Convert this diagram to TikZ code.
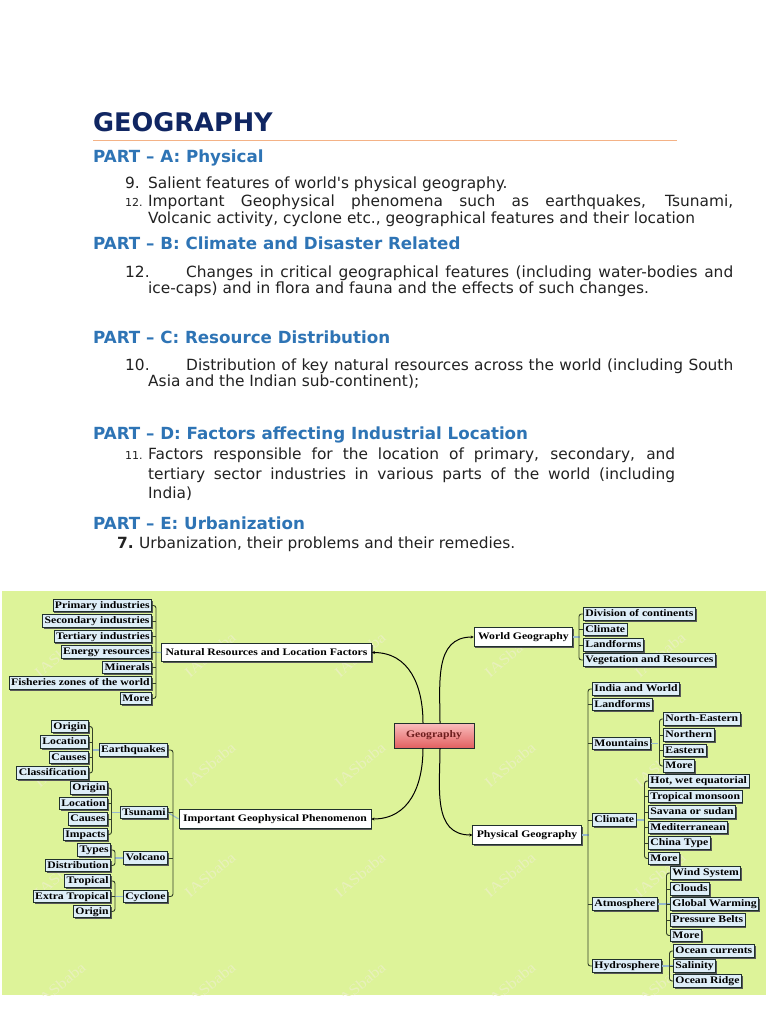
\documentclass[tikz,border=0pt]{standalone}
\usepackage{fontspec}
\setmainfont{DejaVu Sans}
\newfontfamily\mapfont{Liberation Serif}[FakeStretch=1.17]
\usetikzlibrary{arrows.meta,shadows}
\definecolor{titlenavy}{RGB}{16,38,98}
\definecolor{partblue}{RGB}{46,116,181}
\definecolor{bodytext}{RGB}{34,34,34}
\definecolor{rulepeach}{RGB}{244,178,134}
\definecolor{mapgreen}{RGB}{221,243,153}
\definecolor{leafblue}{RGB}{222,238,248}
\definecolor{edgedark}{RGB}{32,48,44}
\definecolor{tiegreen}{RGB}{52,66,40}
\definecolor{linkblue}{RGB}{150,185,205}
\definecolor{markgreen}{RGB}{232,240,188}
\newcommand\bodysize{\fontsize{15.4}{17}\selectfont}
\newcommand\numsize{\fontsize{11}{12}\selectfont}
\newcommand\jline[2]{\makebox[#1][s]{#2}}
\tikzset{txt/.style={anchor=base west,inner sep=0pt,text=bodytext,font=\bodysize},part/.style={anchor=base west,inner sep=0pt,text=partblue,font=\fontsize{16.7}{18}\selectfont\bfseries},leaf/.style={draw=edgedark,line width=0.9pt,fill=leafblue,font=\mapfont\fontsize{10}{10}\selectfont\bfseries,inner xsep=2pt,inner ysep=0pt,minimum height=12.5pt,text height=7pt,text depth=1.8pt,drop shadow={shadow xshift=1.3pt,shadow yshift=-1.3pt,fill=black!65,opacity=1}},mainbox/.style={leaf,fill=white,minimum height=18.5pt,inner xsep=4pt},tie/.style={draw=tiegreen,line width=0.9pt,rounded corners=2.5pt},link/.style={draw=linkblue,line width=1.1pt},curve/.style={draw=black,line width=1pt,-{Stealth[length=3pt,width=3pt]}},wmark/.style={text=markgreen,font=\mapfont\fontsize{15}{15}\selectfont,rotate=40}}

\begin{document}
\begin{tikzpicture}[x=1pt,y=-1pt]
\useasboundingbox (0,0) rectangle (768,1024);
\fill[white] (0,0) rectangle (768,1024);
% syllabus text
\node[anchor=base west,inner sep=0pt,text=titlenavy,font=\fontsize{25.6}{28}\selectfont\bfseries] (title) at (93,132) {GEOGRAPHY};
\draw[rulepeach,line width=0.8pt] (93,140) -- (677,140);
\node[part] (partA) at (93,163) {PART – A: Physical};
\node[txt] (numA1) at (125,189) {9.};
\node[txt] (itemA1) at (148,189) {Salient features of world\textquotesingle s physical geography.};
\node[txt,font=\numsize] (numA2) at (125,207) {12.};
\node[txt] (itemA2) at (148,207) {\jline{585pt}{Important Geophysical phenomena such as earthquakes, Tsunami,}};
\node[txt] (itemA3) at (148,223) {Volcanic activity, cyclone etc., geographical features and their location};
\node[part] (partB) at (93,249) {PART – B: Climate and Disaster Related};
\node[txt] (numB1) at (125,277) {12.};
\node[txt] (itemB1) at (186,277) {\jline{547pt}{Changes in critical geographical features (including water-bodies and}};
\node[txt] (itemB2) at (148,293) {ice-caps) and in flora and fauna and the effects of such changes.};
\node[part] (partC) at (93,343) {PART – C: Resource Distribution};
\node[txt] (numC1) at (125,370) {10.};
\node[txt] (itemC1) at (186,370) {\jline{547pt}{Distribution of key natural resources across the world (including South}};
\node[txt] (itemC2) at (148,386) {Asia and the Indian sub-continent);};
\node[part] (partD) at (93,439) {PART – D: Factors affecting Industrial Location};
\node[txt,font=\numsize] (numD1) at (125,459) {11.};
\node[txt] (itemD1) at (148,459) {\jline{527pt}{Factors responsible for the location of primary, secondary, and}};
\node[txt] (itemD2) at (148,479) {\jline{527pt}{tertiary sector industries in various parts of the world (including}};
\node[txt] (itemD3) at (148,498) {India)};
\node[part] (partE) at (93,529) {PART – E: Urbanization};
\node[txt,font=\bodysize\bfseries] (numE1) at (117,548) {7.};
\node[txt] (itemE1) at (139,548) {Urbanization, their problems and their remedies.};
% mind map
\fill[mapgreen] (2,591) rectangle (766,995);
\begin{scope}
\clip (2,591) rectangle (766,995);
\foreach \wx in {60,210,360,510,660}
  \foreach \wy in {655,765,875,985}
    \node[wmark] at (\wx,\wy) {IASbaba};
\end{scope}
\node[draw=edgedark,line width=0.9pt,top color={rgb,255:red,250;green,190;blue,190},bottom color={rgb,255:red,226;green,96;blue,96},minimum width=80pt,minimum height=25pt,font=\mapfont\fontsize{10}{10}\selectfont\bfseries,text={rgb,255:red,110;green,30;blue,30},drop shadow={shadow xshift=1.3pt,shadow yshift=-1.3pt,fill=black!65,opacity=1}] (geo) at (434,735.5) {Geography};
\node[mainbox] (nrlf) at (266.5,652.5) {Natural Resources and Location Factors};
\node[mainbox] (igp) at (275,819) {Important Geophysical Phenomenon};
\node[mainbox] (wgeo) at (523.5,637) {World Geography};
\node[mainbox] (pgeo) at (527,835) {Physical Geography};
\coordinate (geoNL) at (423,723);
\coordinate (geoNR) at (440,723);
\coordinate (geoSL) at (423,748);
\coordinate (geoSR) at (440,748);
\draw[curve] (geoNL) to[out=90,in=0,looseness=1.1] (nrlf.east);
\draw[curve] (geoNR) to[out=90,in=180,looseness=1.1] (wgeo.west);
\draw[curve] (geoSL) to[out=-90,in=0,looseness=1.1] (igp.east);
\draw[curve] (geoSR) to[out=-90,in=180,looseness=1.1] (pgeo.west);
% natural resources
\node[leaf,anchor=east] (prim) at (152,605.5) {Primary industries};
\node[leaf,anchor=east] (seco) at (152,621) {Secondary industries};
\node[leaf,anchor=east] (tert) at (152,636.5) {Tertiary industries};
\node[leaf,anchor=east] (ener) at (152,652) {Energy resources};
\node[leaf,anchor=east] (mine) at (152,667.5) {Minerals};
\node[leaf,anchor=east] (fish) at (152,683) {Fisheries zones of the world};
\node[leaf,anchor=east] (nrmore) at (152,698.5) {More};
\draw[link] (nrlf.west) -- (ener.east);
\draw[tie] (prim.east) -- ++(4,0) |- (nrmore.east);
\foreach \c in {seco,tert,ener,mine,fish} \draw[tie] (\c.east) -- ++(4,0);
% geophysical phenomena
\node[leaf,anchor=east] (quake) at (168,750) {Earthquakes};
\node[leaf,anchor=east] (tsun) at (168,812.5) {Tsunami};
\node[leaf,anchor=east] (volc) at (168,858) {Volcano};
\node[leaf,anchor=east] (cycl) at (168,896.5) {Cyclone};
\draw[link] (igp.west) -- (tsun.east);
\draw[tie] (quake.east) -- ++(5,0) |- (cycl.east);
\foreach \c in {tsun,volc} \draw[tie] (\c.east) -- ++(5,0);
\node[leaf,anchor=east] (qorig) at (89,726.5) {Origin};
\node[leaf,anchor=east] (qloc) at (89,742) {Location};
\node[leaf,anchor=east] (qcaus) at (89,757.5) {Causes};
\node[leaf,anchor=east] (qclas) at (89,773) {Classification};
\draw[link] (quake.west) -- ++(-7,0);
\draw[tie] (qorig.east) -- ++(3.5,0) |- (qclas.east);
\foreach \c in {qloc,qcaus} \draw[tie] (\c.east) -- ++(3.5,0);
\node[leaf,anchor=east] (torig) at (108,788) {Origin};
\node[leaf,anchor=east] (tloc) at (108,803.5) {Location};
\node[leaf,anchor=east] (tcaus) at (108,819) {Causes};
\node[leaf,anchor=east] (timp) at (108,834.5) {Impacts};
\draw[link] (tsun.west) -- ++(-8,0);
\draw[tie] (torig.east) -- ++(3.5,0) |- (timp.east);
\foreach \c in {tloc,tcaus} \draw[tie] (\c.east) -- ++(3.5,0);
\node[leaf,anchor=east] (vtype) at (111,850) {Types};
\node[leaf,anchor=east] (vdist) at (111,865.5) {Distribution};
\draw[link] (volc.west) -- ++(-8,0);
\draw[tie] (vtype.east) -- ++(4,0) |- (vdist.east);
\node[leaf,anchor=east] (ctrop) at (111,881) {Tropical};
\node[leaf,anchor=east] (cextra) at (111,896.5) {Extra Tropical};
\node[leaf,anchor=east] (corig) at (111,911.5) {Origin};
\draw[link] (cycl.west) -- (cextra.east);
\draw[tie] (ctrop.east) -- ++(4,0) |- (corig.east);
\draw[tie] (cextra.east) -- ++(4,0);
% world geography
\node[leaf,anchor=west] (divc) at (583,614) {Division of continents};
\node[leaf,anchor=west] (wclim) at (583,629.5) {Climate};
\node[leaf,anchor=west] (wland) at (583,645) {Landforms};
\node[leaf,anchor=west] (vege) at (583,660) {Vegetation and Resources};
\draw[link] (wgeo.east) -- ++(7,0);
\draw[tie] (divc.west) -- ++(-4,0) |- (vege.west);
\foreach \c in {wclim,wland} \draw[tie] (\c.west) -- ++(-4,0);
% physical geography
\node[leaf,anchor=west] (indw) at (592,689) {India and World};
\node[leaf,anchor=west] (pland) at (592,704.5) {Landforms};
\node[leaf,anchor=west] (mount) at (592,743.5) {Mountains};
\node[leaf,anchor=west] (pclim) at (592,820) {Climate};
\node[leaf,anchor=west] (atmo) at (592,904) {Atmosphere};
\node[leaf,anchor=west] (hydro) at (592,966) {Hydrosphere};
\draw[link] (pgeo.east) -- ++(7,0);
\draw[tie] (indw.west) -- ++(-4,0) |- (hydro.west);
\foreach \c in {pland,mount,pclim,atmo} \draw[tie] (\c.west) -- ++(-4,0);
\node[leaf,anchor=west] (mne) at (663,719) {North-Eastern};
\node[leaf,anchor=west] (mnor) at (663,735) {Northern};
\node[leaf,anchor=west] (meas) at (663,750.5) {Eastern};
\node[leaf,anchor=west] (mmore) at (663,766) {More};
\draw[link] (mount.east) -- ++(7,0);
\draw[tie] (mne.west) -- ++(-3.5,0) |- (mmore.west);
\foreach \c in {mnor,meas} \draw[tie] (\c.west) -- ++(-3.5,0);
\node[leaf,anchor=west] (chot) at (648,781) {Hot, wet equatorial};
\node[leaf,anchor=west] (ctmon) at (648,796.5) {Tropical monsoon};
\node[leaf,anchor=west] (csav) at (648,812) {Savana or sudan};
\node[leaf,anchor=west] (cmed) at (648,827.5) {Mediterranean};
\node[leaf,anchor=west] (cchin) at (648,843) {China Type};
\node[leaf,anchor=west] (cmore) at (648,858.5) {More};
\draw[link] (pclim.east) -- ++(7,0);
\draw[tie] (chot.west) -- ++(-3.5,0) |- (cmore.west);
\foreach \c in {ctmon,csav,cmed,cchin} \draw[tie] (\c.west) -- ++(-3.5,0);
\node[leaf,anchor=west] (wind) at (670,873) {Wind System};
\node[leaf,anchor=west] (clou) at (670,889) {Clouds};
\node[leaf,anchor=west] (glob) at (670,904) {Global Warming};
\node[leaf,anchor=west] (pres) at (670,920) {Pressure Belts};
\node[leaf,anchor=west] (amore) at (670,935.5) {More};
\draw[link] (atmo.east) -- (glob.west);
\draw[tie] (wind.west) -- ++(-3.5,0) |- (amore.west);
\foreach \c in {clou,glob,pres} \draw[tie] (\c.west) -- ++(-3.5,0);
\node[leaf,anchor=west] (ocur) at (673,951) {Ocean currents};
\node[leaf,anchor=west] (sali) at (673,966) {Salinity};
\node[leaf,anchor=west] (orid) at (673,981) {Ocean Ridge};
\draw[link] (hydro.east) -- (sali.west);
\draw[tie] (ocur.west) -- ++(-3.5,0) |- (orid.west);
\draw[tie] (sali.west) -- ++(-3.5,0);
\end{tikzpicture}
\end{document}
